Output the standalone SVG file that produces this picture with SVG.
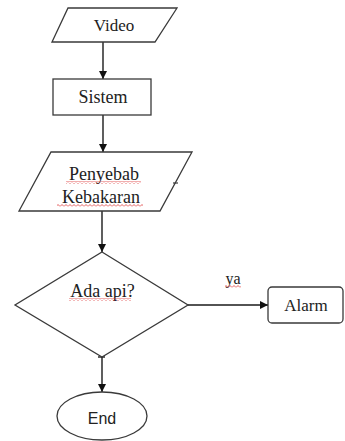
<svg xmlns="http://www.w3.org/2000/svg" width="345" height="441" viewBox="0 0 345 441">
  <style>
    .shape { fill: #ffffff; stroke: #3a3a3a; stroke-width: 1.3; }
    .conn { fill: none; stroke: #1a1a1a; stroke-width: 1.4; }
    .lbl { font-family: "Liberation Serif", "Times New Roman", serif; font-size: 18px; fill: #222; text-anchor: middle; }
    .sans { font-family: "Liberation Sans", Arial, sans-serif; font-size: 16px; fill: #222; text-anchor: middle; }
    .wavy { fill: url(#wave); }
  </style>
  <defs>
    <marker id="arrow" viewBox="0 0 10 10" refX="10" refY="5" markerWidth="8" markerHeight="8" markerUnits="userSpaceOnUse" orient="auto">
      <path d="M0,0 L10,5 L0,10 Z" fill="#111"/>
    </marker>
    <pattern id="wave" width="4" height="3" patternUnits="userSpaceOnUse">
      <path d="M0,2.5 L2,0.5 L4,2.5" fill="none" stroke="#d33" stroke-width="0.8"/>
    </pattern>
  </defs>
  <rect width="345" height="441" fill="#ffffff"/>

  <g id="connectors">
    <line class="conn" x1="103" y1="42" x2="103" y2="79" marker-end="url(#arrow)"/>
    <line class="conn" x1="103" y1="115" x2="103" y2="152" marker-end="url(#arrow)"/>
    <line class="conn" x1="102" y1="211" x2="102" y2="252" marker-end="url(#arrow)"/>
    <line class="conn" x1="188" y1="305" x2="268" y2="305" marker-end="url(#arrow)"/>
    <line class="conn" x1="102" y1="357" x2="102" y2="392" marker-end="url(#arrow)"/>
    <line class="conn" x1="98" y1="357" x2="105" y2="357"/>
    <text class="lbl" x="233" y="284" style="font-size:16px">ya</text>
    <rect class="wavy" x="225" y="285" width="16" height="3"/>
  </g>

  <g id="video">
    <polygon class="shape" points="68,8 177,8 155,42 52,42"/>
    <text class="lbl" x="114" y="31" style="font-size:17px">Video</text>
  </g>

  <g id="sistem">
    <rect class="shape" x="53" y="79" width="98" height="36"/>
    <text class="lbl" x="103" y="103">Sistem</text>
  </g>

  <g id="penyebab">
    <polygon class="shape" points="51,152 192,152 160,211 19,211"/>
    <line x1="173" y1="183" x2="178" y2="183" stroke="#3a3a3a" stroke-width="1.2"/>
    <text class="lbl" x="104" y="180">Penyebab</text>
    <text class="lbl" x="101" y="203">Kebakaran</text>
    <rect class="wavy" x="66" y="181" width="75" height="3"/>
    <rect class="wavy" x="57" y="204" width="86" height="3"/>
  </g>

  <g id="ada-api">
    <polygon class="shape" points="102,252 188,305 102,357 15,305"/>
    <text class="lbl" x="102.5" y="297">Ada api?</text>
    <rect class="wavy" x="69" y="298" width="62" height="3"/>
  </g>

  <g id="alarm">
    <rect class="shape" x="268" y="287" width="75" height="36" rx="4"/>
    <text class="lbl" x="306" y="311" style="font-size:17px">Alarm</text>
  </g>

  <g id="end">
    <ellipse class="shape" cx="102" cy="416" rx="45" ry="24"/>
    <text class="sans" x="102" y="424">End</text>
  </g>
</svg>
